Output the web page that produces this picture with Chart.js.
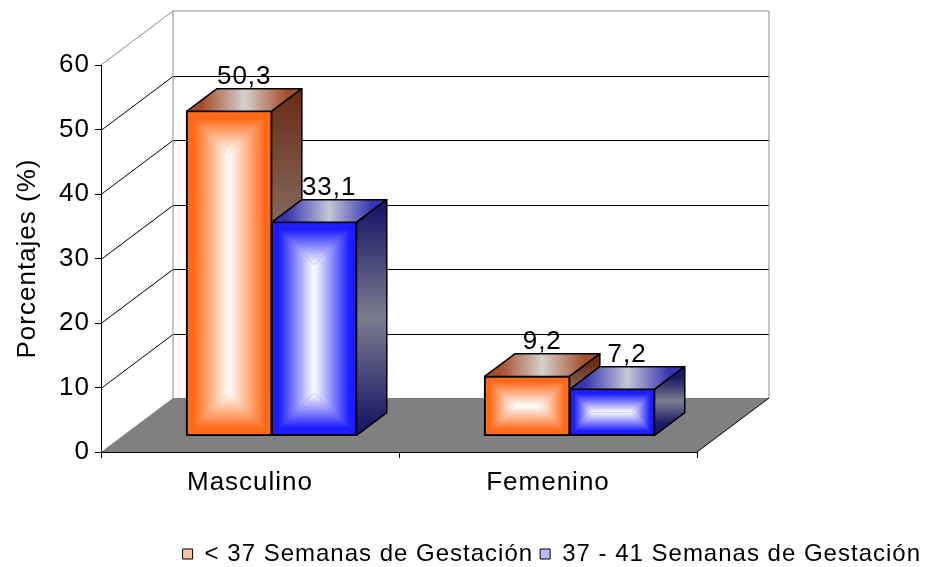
<!DOCTYPE html>
<html lang="es">
<head>
<meta charset="UTF-8">
<title>Porcentajes por sexo y semanas de gestación</title>
<script src="https://cdn.jsdelivr.net/npm/chart.js"></script>
<style>
  body { margin: 0; background: #fff; }
  #caja { width: 928px; height: 567px; }
</style>
</head>
<body>
<div id="caja"><canvas id="grafico" width="928" height="567"></canvas></div>
<script>
const categorias = ['Masculino', 'Femenino'];
const menos37 = [50.3, 9.2];
const de37a41 = [33.1, 7.2];
const ticksY = [0, 10, 20, 30, 40, 50, 60];
const series = ['< 37 Semanas de Gestación', '37 - 41 Semanas de Gestación'];

// colores de cada cara de las barras
const estilos = [
  { frente: '#ff6a1a', tapa: ['#a64e2a', '#d4d0ce'], lado: ['#6c3018', '#8c7c76'], leyenda: '#ffc2a6' },
  { frente: '#1c1cff', tapa: ['#3434b0', '#c6c6d6'], lado: ['#1a1a68', '#7c7c8e'], leyenda: '#b8b8ff' }
];

// profundidad del efecto 3D
const PROF_X = 72, PROF_Y = -54;
const BARRA_INI = 0.3, BARRA_PROF = 0.42;
const FUENTE = '"Liberation Sans", Arial, sans-serif';

Chart.defaults.font.family = FUENTE;
Chart.defaults.color = '#000';

function poligono(ctx, pts) {
  ctx.beginPath();
  ctx.moveTo(pts[0][0], pts[0][1]);
  for (let i = 1; i < pts.length; i++) ctx.lineTo(pts[i][0], pts[i][1]);
  ctx.closePath();
}

// degradado "desde el centro" de la cara frontal
function caraFrontal(ctx, x0, y0, x1, y1, color) {
  const m = Math.min(x1 - x0, y1 - y0) / 2;
  const partes = [
    [[[x0, y0], [x1, y0], [x1 - m, y0 + m], [x0 + m, y0 + m]], x0, y0, x0, y0 + m],
    [[[x0, y1], [x1, y1], [x1 - m, y1 - m], [x0 + m, y1 - m]], x0, y1, x0, y1 - m],
    [[[x0, y0], [x0 + m, y0 + m], [x0 + m, y1 - m], [x0, y1]], x0, y0, x0 + m, y0],
    [[[x1, y0], [x1 - m, y0 + m], [x1 - m, y1 - m], [x1, y1]], x1, y0, x1 - m, y0]
  ];
  partes.forEach(([pts, gx0, gy0, gx1, gy1]) => {
    const g = ctx.createLinearGradient(gx0, gy0, gx1, gy1);
    g.addColorStop(0, color);
    g.addColorStop(0.15, color);
    g.addColorStop(1, '#ffffff');
    ctx.fillStyle = g;
    poligono(ctx, pts);
    ctx.fill();
  });
}

const cubos3d = {
  id: 'cubos3d',
  beforeLayout(chart) {
    chart.ctx.letterSpacing = '1px';
  },
  afterLayout(chart) {
    chart.legend.top += 9;
    chart.legend.bottom += 9;
  },
  beforeDraw(chart) {
    const ctx = chart.ctx;
    ctx.letterSpacing = '1px';
    const sx = chart.scales.x, sy = chart.scales.y;
    const x0 = sx.left, x1 = sx.right;
    const yCero = sy.getPixelForValue(0);
    const yTope = sy.getPixelForValue(ticksY[ticksY.length - 1]);
    ctx.save();
    ctx.fillStyle = '#fff';
    ctx.fillRect(0, 0, chart.width, chart.height);
    ctx.lineWidth = 1;
    // lineas de division en pared lateral y de fondo
    ctx.strokeStyle = '#000';
    ticksY.slice(1, -1).forEach(v => {
      const py = Math.round(sy.getPixelForValue(v)) + 0.5;
      ctx.beginPath();
      ctx.moveTo(x0, py);
      ctx.lineTo(x0 + PROF_X, py + PROF_Y);
      ctx.lineTo(x1 + PROF_X, py + PROF_Y);
      ctx.stroke();
    });
    // piso
    ctx.fillStyle = '#808080';
    poligono(ctx, [[x0, yCero], [x1, yCero], [x1 + PROF_X, yCero + PROF_Y], [x0 + PROF_X, yCero + PROF_Y]]);
    ctx.fill();
    ctx.beginPath();
    ctx.moveTo(x1, yCero);
    ctx.lineTo(x1 + PROF_X, yCero + PROF_Y);
    ctx.stroke();
    // bordes de las paredes
    ctx.strokeStyle = '#8c8c8c';
    ctx.beginPath();
    ctx.moveTo(x0, yTope);
    ctx.lineTo(x0 + PROF_X, yTope + PROF_Y);
    ctx.lineTo(x1 + PROF_X, yTope + PROF_Y);
    ctx.lineTo(x1 + PROF_X, yCero + PROF_Y);
    ctx.moveTo(x0 + PROF_X, yTope + PROF_Y);
    ctx.lineTo(x0 + PROF_X, yCero + PROF_Y);
    ctx.stroke();
    ctx.restore();
  },
  beforeDatasetsDraw(chart) {
    chart.ctx.save();
    chart.ctx.translate(PROF_X * BARRA_INI, PROF_Y * BARRA_INI);
  },
  afterDatasetsDraw(chart) {
    const ctx = chart.ctx;
    const bx = PROF_X * BARRA_PROF, by = PROF_Y * BARRA_PROF;
    ctx.lineJoin = 'round';
    categorias.forEach((c, i) => {
      chart.data.datasets.forEach((ds, d) => {
        const el = chart.getDatasetMeta(d).data[i];
        const p = el.getProps(['x', 'y', 'base', 'width'], true);
        const est = estilos[d];
        const x0 = p.x - p.width / 2, x1 = p.x + p.width / 2;
        el.draw(ctx);
        caraFrontal(ctx, x0 + 1, p.y + 1, x1 - 1, p.base - 1, est.frente);
        ctx.lineWidth = 1.5;
        ctx.strokeStyle = '#000';
        ctx.strokeRect(x0, p.y, p.width, p.base - p.y);
        // tapa
        let g = ctx.createLinearGradient(x0 + bx / 2, 0, x1 + bx / 2, 0);
        g.addColorStop(0, est.tapa[0]);
        g.addColorStop(0.5, est.tapa[1]);
        g.addColorStop(1, est.tapa[0]);
        ctx.fillStyle = g;
        poligono(ctx, [[x0, p.y], [x1, p.y], [x1 + bx, p.y + by], [x0 + bx, p.y + by]]);
        ctx.fill();
        ctx.stroke();
        // lado
        g = ctx.createLinearGradient(0, p.y + by / 2, 0, p.base + by / 2);
        g.addColorStop(0, est.lado[0]);
        g.addColorStop(0.5, est.lado[1]);
        g.addColorStop(1, est.lado[0]);
        ctx.fillStyle = g;
        poligono(ctx, [[x1, p.y], [x1 + bx, p.y + by], [x1 + bx, p.base + by], [x1, p.base]]);
        ctx.fill();
        ctx.stroke();
      });
    });
    // etiquetas de valores
    ctx.font = '26px ' + FUENTE;
    ctx.fillStyle = '#000';
    ctx.textAlign = 'center';
    ctx.textBaseline = 'alphabetic';
    chart.data.datasets.forEach((ds, d) => {
      chart.getDatasetMeta(d).data.forEach((el, i) => {
        const p = el.getProps(['x', 'y'], true);
        ctx.fillText(ds.data[i].toFixed(1).replace('.', ','), p.x + bx / 2, p.y + by - 5);
      });
    });
    ctx.restore();
  }
};

const chart = new Chart(document.getElementById('grafico'), {
  type: 'bar',
  data: {
    labels: categorias,
    datasets: [
      { label: series[0], data: menos37, backgroundColor: estilos[0].frente },
      { label: series[1], data: de37a41, backgroundColor: estilos[1].frente }
    ]
  },
  options: {
    responsive: false,
    animation: false,
    datasets: {
      bar: { categoryPercentage: 0.57, barPercentage: 1, borderWidth: 1.5, borderColor: '#000', borderSkipped: false, clip: false }
    },
    layout: { padding: { top: 65, left: 0, right: 0, bottom: 0 } },
    plugins: {
      tooltip: { enabled: false },
      legend: {
        position: 'bottom',
        align: 'end',
        labels: {
          boxWidth: 10,
          boxHeight: 10,
          padding: 7,
          color: '#000',
          font: { size: 24 },
          generateLabels: chart => chart.data.datasets.map((ds, i) => ({
            text: ds.label,
            fillStyle: estilos[i].leyenda,
            strokeStyle: '#000',
            lineWidth: 1,
            hidden: false,
            datasetIndex: i,
            fontColor: '#000'
          }))
        }
      }
    },
    scales: {
      x: {
        grid: { offset: true, drawOnChartArea: false, color: '#000', tickLength: 6 },
        border: { color: '#000' },
        ticks: { padding: 9, font: { size: 26 }, color: '#000' },
        afterFit: s => { s.height = 74; }
      },
      y: {
        min: 0,
        max: 60,
        afterBuildTicks: s => { s.ticks = ticksY.map(v => ({ value: v })); },
        ticks: { padding: 5, font: { size: 26 }, color: '#000' },
        grid: { drawOnChartArea: false, color: '#000', tickLength: 6 },
        border: { color: '#000' },
        title: { display: true, text: 'Porcentajes (%)', color: '#000', font: { size: 26 }, padding: { top: 12, bottom: 0 } },
        afterFit: s => { s.width = 101; }
      },
      derecha: {
        type: 'linear',
        position: 'right',
        ticks: { display: false },
        grid: { display: false },
        border: { display: false },
        afterFit: s => { s.width = 231; }
      }
    }
  },
  plugins: [cubos3d]
});
</script>
</body>
</html>
